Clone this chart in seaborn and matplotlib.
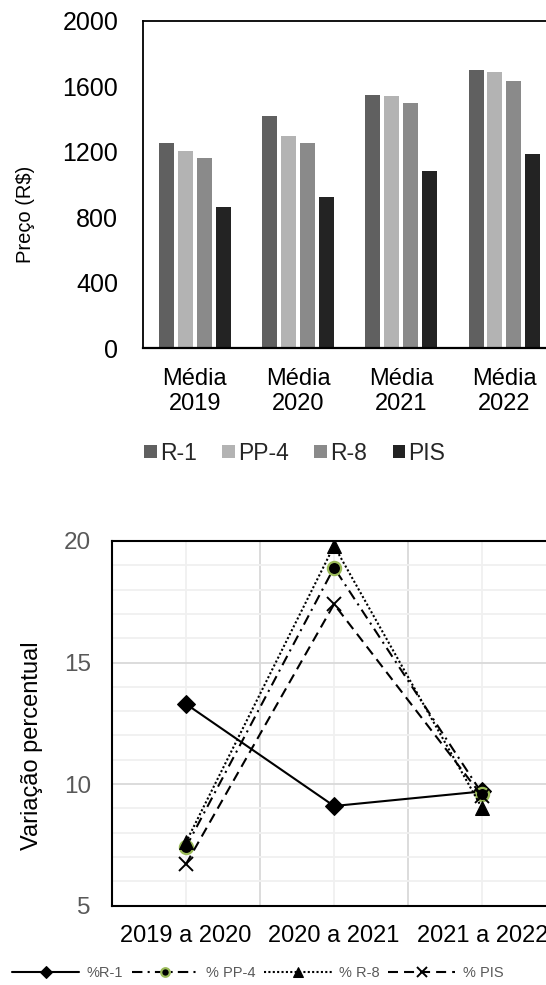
import pandas as pd
import numpy as np
import matplotlib
matplotlib.use('Agg')
import matplotlib.pyplot as plt
from matplotlib.ticker import MultipleLocator, FixedLocator
import seaborn as sns

# bar chart data (precos medios)
anos = ['Média\n2019', 'Média\n2020', 'Média\n2021', 'Média\n2022']
produtos = ['R-1', 'PP-4', 'R-8', 'PIS']
r1 = [1251, 1418, 1548, 1699]
pp4 = [1206, 1296, 1540, 1687]
r8 = [1162, 1251, 1497, 1634]
pis = [863, 922, 1080, 1184]
cores_barras = ['#606060', '#b3b3b3', '#8a8a8a', '#232323']

# line chart data (variacao percentual)
periodos = ['2019 a 2020', '2020 a 2021', '2021 a 2022']
var_r1 = [13.3, 9.1, 9.7]
var_pp4 = [7.4, 18.9, 9.6]
var_r8 = [7.6, 19.8, 9.0]
var_pis = [6.7, 17.4, 9.5]
nomes_linhas = ['%R-1', '% PP-4', '% R-8', '% PIS']

sns.set_theme(style='white')
plt.rcParams['font.family'] = ['Liberation Sans', 'DejaVu Sans']

precos = pd.DataFrame({
    'ano': anos * 4,
    'produto': np.repeat(produtos, 4),
    'preco': r1 + pp4 + r8 + pis,
})

fig = plt.figure(figsize=(5.46, 9.85), dpi=100)

# ---- top: bars
ax1 = fig.add_axes([0.2625, 0.6464, 0.7555, 0.3326])
sns.barplot(data=precos, x='ano', y='preco', hue='produto', palette=cores_barras,
            width=0.73, gap=0.2, linewidth=0, saturation=1, ax=ax1)
ax1.set_ylim(0, 2000)
ax1.set_xlim(-0.5, 3.5)
ax1.yaxis.set_major_locator(MultipleLocator(400))
ax1.set_xlabel('')
ax1.set_ylabel('Preço (R$)', fontsize=14.5, color='black')
ax1.yaxis.set_label_coords(-0.262, 0.41)
ax1.tick_params(axis='y', length=0, pad=18, labelsize=18, labelcolor='black')
ax1.tick_params(axis='x', length=0, pad=14, labelsize=17, labelcolor='black')
for lab in ax1.get_xticklabels():
    lab.set_linespacing(1.2)
for s in ['left', 'top']:
    ax1.spines[s].set_color('black')
    ax1.spines[s].set_linewidth(1.3)
ax1.spines['bottom'].set_color('black')
ax1.spines['bottom'].set_linewidth(1.6)
ax1.spines['right'].set_visible(False)
sns.move_legend(ax1, 'center', bbox_to_anchor=(0.54, 0.54), bbox_transform=fig.transFigure,
                ncol=4, frameon=False, title=None, fontsize=16.5, handlelength=0.55,
                handleheight=0.55, handletextpad=0.15, columnspacing=1.1)

# ---- bottom: lines
ax2 = fig.add_axes([0.2046, 0.0805, 0.8144, 0.3703])
estilos = [
    dict(y=var_r1, marker='D', markersize=9, linestyle='-', mfc='black', mec='black'),
    dict(y=var_pp4, marker='o', markersize=9.5, linestyle=(0, (5, 2.5, 1, 2.5)),
         mfc='black', mec='#9bbb59', mew=1.6),
    dict(y=var_r8, marker='^', markersize=10.5, linestyle=(0, (1, 1.1)), mfc='black', mec='black'),
    dict(y=var_pis, marker='x', markersize=10, linestyle=(0, (4.8, 2.9)), mec='black', mew=1.4),
]
for nome, est in zip(nomes_linhas, estilos):
    yv = est.pop('y')
    sns.lineplot(x=periodos, y=yv, color='black', linewidth=1.5, label=nome, sort=False,
                 legend=False, ax=ax2, **est)

ax2.set_xlim(-0.5, 2.5)
ax2.set_ylim(5, 20)
ax2.yaxis.set_major_locator(MultipleLocator(5))
ax2.yaxis.set_minor_locator(MultipleLocator(1))
ax2.xaxis.set_minor_locator(FixedLocator([0.5, 1.5]))
ax2.grid(which='major', axis='y', color='#d9d9d9', linewidth=1.3)
ax2.grid(which='minor', axis='y', color='#f0f0f0', linewidth=1.3)
ax2.grid(which='major', axis='x', color='#f0f0f0', linewidth=1.3)
ax2.grid(which='minor', axis='x', color='#d9d9d9', linewidth=1.3)
ax2.set_axisbelow(True)
ax2.set_xlabel('')
ax2.set_ylabel('Variação percentual', fontsize=17, color='black')
ax2.yaxis.set_label_coords(-0.155, 0.44)
ax2.tick_params(axis='y', which='both', length=0, pad=15, labelsize=17.5, labelcolor='#595959')
ax2.tick_params(axis='x', which='both', length=0, pad=14, labelsize=17, labelcolor='black')
for s in ax2.spines.values():
    s.set_color('black')
    s.set_linewidth(1.5)

handles, labels = ax2.get_legend_handles_labels()
leg = fig.legend(handles, labels, loc='center', bbox_to_anchor=(0.472, 0.0122), ncol=4,
                 frameon=False, fontsize=10.5, handlelength=4.6, handletextpad=0.5,
                 columnspacing=0.6, labelcolor='#595959', markerscale=0.65)

fig.savefig('out.png', dpi=100)
